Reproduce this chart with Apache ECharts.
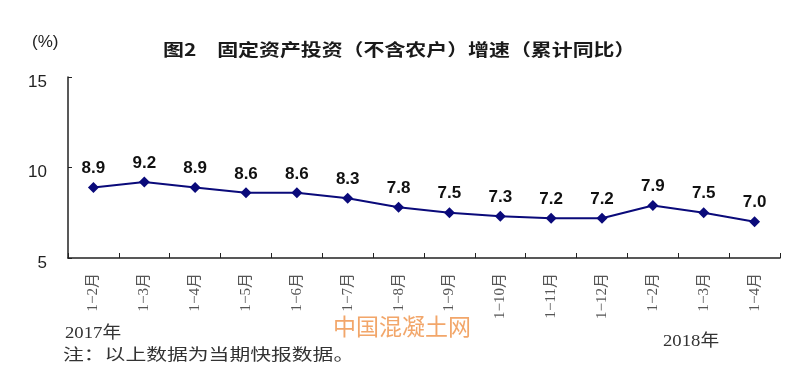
<!DOCTYPE html>
<html>
<head>
<meta charset="utf-8">
<script src="https://cdn.jsdelivr.net/npm/echarts@6/dist/echarts.min.js"></script>
<style>
html,body{margin:0;padding:0;background:#fff;}
#c{width:800px;height:373px;}
</style>
</head>
<body>
<div id="c"></div>
<script>
var categories = ["1\u22122月","1\u22123月","1\u22124月","1\u22125月","1\u22126月","1\u22127月","1\u22128月","1\u22129月","1\u221210月","1\u221211月","1\u221212月","1\u22122月","1\u22123月","1\u22124月"];
var values = [8.9, 9.2, 8.9, 8.6, 8.6, 8.3, 7.8, 7.5, 7.3, 7.2, 7.2, 7.9, 7.5, 7.0];
var yTicks = [5, 10, 15];
var titleText = "图2　固定资产投资（不含农户）增速（累计同比）";
var unitText = "(%)";
var year1 = "2017年";
var year2 = "2018年";
var noteText = "注：以上数据为当期快报数据。";
var watermark = "中国混凝土网";

var cjk = '"Noto Sans CJK SC", sans-serif';
var serif = '"Liberation Serif", "Noto Sans CJK SC", serif';
var sans = '"Liberation Sans", Arial, sans-serif';

var chart = echarts.init(document.getElementById('c'), null, {renderer:'canvas'});
chart.setOption({
  animation:false,
  backgroundColor:'#ffffff',
  grid:{left:68, right:20, top:77, bottom:115, containLabel:false},
  xAxis:{
    type:'category', data:categories, boundaryGap:true,
    axisLine:{lineStyle:{color:'#222', width:1.5}},
    axisTick:{show:true, inside:true, length:5, lineStyle:{color:'#222'}},
    axisLabel:{rotate:90, margin:15, fontSize:15, color:'#555', fontFamily:serif, interval:0}
  },
  yAxis:{
    type:'value', min:5, max:15, interval:5,
    axisLine:{show:true, lineStyle:{color:'#222', width:1.5}},
    axisTick:{show:true, inside:true, length:4, lineStyle:{color:'#222'}},
    splitLine:{show:false},
    axisLabel:{margin:21, fontSize:17, color:'#222', fontFamily:sans, verticalAlign:'top', lineHeight:10,
      formatter:function(v){return yTicks.indexOf(v)>=0 ? String(v) : '';}}
  },
  series:[{
    type:'line', data:values,
    symbol:'diamond', symbolSize:11,
    lineStyle:{color:'#0a0a7a', width:2},
    itemStyle:{color:'#0a0a7a'},
    label:{show:true, position:'top', distance:5, fontSize:17, fontWeight:'bold', color:'#111',
      fontFamily:sans,
      formatter:function(p){return p.value.toFixed(1);}}
  }],
  graphic:[
    {type:'text', x:163, y:41, scaleX:1.23, scaleY:1, originX:0, originY:0,
      style:{text:titleText, fontSize:17, fontWeight:'bold', fill:'#1a1a1a', fontFamily:cjk}},
    {type:'text', x:32, y:34, style:{text:unitText, fontSize:17, fill:'#222', fontFamily:sans}},
    {type:'text', x:65, y:325, scaleX:1.1, originX:0, originY:0, style:{text:year1, fontSize:17, fill:'#333', fontFamily:serif}},
    {type:'text', x:663, y:333, scaleX:1.1, originX:0, originY:0, style:{text:year2, fontSize:17, fill:'#333', fontFamily:serif}},
    {type:'text', x:63, y:346, scaleX:1.3, originX:0, originY:0, style:{text:noteText, fontSize:16, fill:'#333', fontFamily:cjk}},
    {type:'text', x:333, y:315, style:{text:watermark, fontSize:23, fill:'rgba(240,150,80,0.85)', fontFamily:cjk}}
  ]
});
</script>
</body>
</html>
